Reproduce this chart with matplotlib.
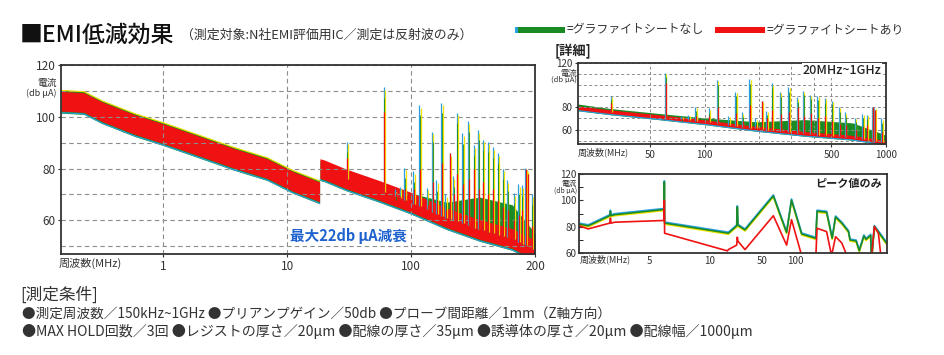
import numpy as np
import matplotlib.pyplot as plt
import matplotlib.transforms as mtrans
from matplotlib.patches import Rectangle

plt.rcParams['font.family'] = ['Noto Sans CJK JP', 'DejaVu Sans']

W, H = 945, 355

# --- farver ---
GREEN = '#1a8a22'
RED = '#f01212'
BLUE = '#2a9fe0'
YELLOW = '#f2e200'
GRID = '#8c8c8c'
TXT = '#333333'

# --- spektrum: støjbånd (MHz, dBuA) ---
low_f = [0.15, 0.23, 0.32, 0.59, 1.0, 2.0, 3.7, 6.9, 11.2, 18.3]
low_level = [106, 105.5, 102, 97, 93.5, 88.5, 84, 80, 75, 71]
high_f = [18.4, 20, 30, 56, 100, 194, 357, 655, 1000]
high_level = [80, 79.5, 76, 71.5, 67, 61, 56.5, 53, 48.5]
high_green_top = [83, 83, 79, 74.5, 70.5, 67, 69, 66, 55]

# --- spektrum: toppe ---
spike_f = [30.6, 60.8, 75, 82, 89.5, 106, 118, 136, 149, 162, 178, 192, 208,
           221, 236, 262, 291, 325, 352, 384, 421, 462, 506, 554, 600, 680,
           745, 790, 845, 870, 950]
spike_without = [90.4, 111.4, 72, 73, 80.4, 79, 104.5, 72.6, 94.2, 75.4, 105.4,
                 70, 86, 77, 101.6, 93.6, 98.3, 89, 94.9, 91.2, 90.4, 88.2, 86,
                 80, 75.4, 70.4, 74, 73.5, 80.4, 79.5, 70]
spike_with = [84, 102, 70.5, 69.5, 72, 72, 80, 66, 75, 68, 82, 64, 86, 70, 78,
              74, 76, 80, 72, 75, 70, 72, 68, 65, 64, 60, 62, 64, 80, 78, 58]

# --- kun topværdier (akse-position 0-100, dBuA) ---
pk_x_without = [0.1, 3.0, 10.0, 10.2, 10.4, 11.7, 27.6, 27.7, 27.8, 48.5, 51.2,
                51.4, 51.6, 53.9, 63.1, 67.4, 69.0, 72.3, 76.9, 77.3, 80.4, 82.2,
                83.3, 85.3, 87.5, 88.0, 90.0, 91.0, 92.5, 93.2, 94.7, 94.9, 95.1,
                95.9, 97.7, 99.9]
pk_without = [81.9, 80.6, 88.3, 91.7, 88.3, 89.1, 93, 114, 82.7, 75, 80.5, 95,
              81, 77.5, 103.3, 75.5, 100.2, 74.4, 71.1, 91.7, 90.9, 71.1, 87.3,
              82.7, 76.2, 69.8, 69.0, 61.6, 72.9, 70.3, 73.4, 58, 58, 80.1,
              74.4, 67.2]
pk_x_with = [0.1, 3.0, 10.0, 10.2, 10.4, 11.7, 27.6, 27.7, 27.8, 48.2, 48.5,
             51.2, 51.4, 51.6, 53.9, 63.1, 67.4, 69.0, 72.3, 76.9, 77.3, 80.4,
             82.0, 83.3, 85.3, 87.0, 95.0, 95.9, 97.2, 98.0]
pk_with = [80.6, 78.3, 82.7, 86.5, 82.7, 83.4, 84.7, 100, 75, 61.6, 62.6, 66,
           72, 69, 62.6, 88.3, 66, 85.3, 58, 58, 78.8, 76.2, 58, 72.4, 67.7,
           58, 58, 80.1, 75, 58]
pk_ticks = [23.0, 42.5, 59.3, 70.1]
pk_ticklabels = ['5', '10', '50', '100']


def px(x, y):
    return x / W, 1 - y / H


def ax_rect(x0, y0, x1, y1):
    return [x0 / W, 1 - y1 / H, (x1 - x0) / W, (y1 - y0) / H]


def style_axes(ax, size):
    for s in ax.spines.values():
        s.set_color('#333333')
        s.set_linewidth(1.3)
    ax.tick_params(labelsize=size, colors=TXT, length=2, pad=2)


def draw_spectrum(ax, w):
    fig = ax.figure
    left = mtrans.offset_copy(ax.transData, fig=fig, x=-0.5, y=0, units='points')
    right = mtrans.offset_copy(ax.transData, fig=fig, x=0.5, y=0, units='points')
    lo = np.array(low_level)
    hi = np.array(high_level)
    # uden grafitplade (grøn / blå / gul)
    ax.fill_between(low_f, lo - w - 0.8, lo + w + 0.6, color=GREEN, lw=0)
    ax.fill_between(high_f, hi - w - 0.8, high_green_top, color=GREEN, lw=0)
    ax.plot(low_f, lo - w - 0.6, color=BLUE, lw=0.8)
    ax.plot(high_f, hi - w - 0.6, color=BLUE, lw=0.8)
    ax.plot(low_f, lo + w + 0.4, color=YELLOW, lw=0.8)
    base = np.interp(np.log10(spike_f), np.log10(high_f), high_level)
    top = np.array(spike_without)
    ax.vlines(spike_f, base, top, colors=BLUE, lw=0.9, transform=left)
    ax.vlines(spike_f, base, top - 1, colors=YELLOW, lw=0.9, transform=right)
    ax.vlines(spike_f, base, top - 4, colors=GREEN, lw=0.6)
    # med grafitplade (rød)
    ax.fill_between(low_f, lo - w, lo + w, color=RED, lw=0)
    ax.fill_between(high_f, hi - w, hi + w, color=RED, lw=0)
    ax.vlines(spike_f, base, spike_with, colors=RED, lw=0.9)


fig = plt.figure(figsize=(W / 100, H / 100), dpi=100)

# --- hovedgraf ---
ax = fig.add_axes(ax_rect(61, 65, 535, 254))
draw_spectrum(ax, 3.8)
ax.set_xscale('log')
ax.set_xlim(0.15, 1000)
ax.set_ylim(47, 120)
ax.set_yticks([60, 80, 100, 120])
ax.set_yticks([50, 70, 90, 110], minor=True)
ax.set_xticks([1, 10, 100, 1000])
ax.set_xticklabels(['1', '10', '100', '200'])
ax.xaxis.set_minor_locator(plt.NullLocator())
style_axes(ax, 8.5)
ax.tick_params(which='minor', length=0)
ax.grid(True, which='both', color=GRID, lw=0.8, ls=(0, (4, 3)))
ax.text(0.606, 0.095, '最大22db μA減衰', transform=ax.transAxes, color='#1e62d0',
        fontsize=10.5, fontweight='bold', ha='center', va='center',
        bbox=dict(facecolor='white', edgecolor='none', pad=1))
fig.text(*px(57, 83), '電流', fontsize=7, color=TXT, ha='right', va='center')
fig.text(*px(57, 93), '(db μA)', fontsize=6.5, color=TXT, ha='right', va='center')
fig.text(*px(59, 263), '周波数(MHz)', fontsize=8, color=TXT, ha='left', va='center')

# --- detalje 20MHz-1GHz ---
ax2 = fig.add_axes(ax_rect(578, 63, 886, 144))
draw_spectrum(ax2, 1.8)
ax2.set_xscale('log')
ax2.set_xlim(20, 1000)
ax2.set_ylim(47, 120)
ax2.set_yticks([60, 80, 120])
ax2.set_yticks([50, 70, 90, 100, 110], minor=True)
ax2.set_xticks([50, 100, 500, 1000])
ax2.set_xticklabels(['50', '100', '500', '1000'])
ax2.set_xticks([200, 300, 400], minor=True)
ax2.xaxis.set_minor_formatter(plt.NullFormatter())
style_axes(ax2, 7)
ax2.tick_params(which='minor', length=0)
ax2.grid(True, which='both', color=GRID, lw=0.7, ls=(0, (3, 2.5)))
ax2.text(0.985, 0.91, '20MHz~1GHz', transform=ax2.transAxes, fontsize=9,
         fontweight='medium', color='#222222', ha='right', va='center',
         bbox=dict(facecolor='white', edgecolor='none', pad=0.5))
fig.text(*px(577, 73), '電流', fontsize=6, color=TXT, ha='right', va='center')
fig.text(*px(577, 80), '(db μA)', fontsize=5.5, color=TXT, ha='right', va='center')
fig.text(*px(578, 152), '周波数(MHz)', fontsize=6.5, color=TXT, ha='left', va='center')

# --- kun topværdier ---
ax3 = fig.add_axes(ax_rect(579, 174, 887, 253))
trans_up = mtrans.offset_copy(ax3.transData, fig=fig, x=0, y=0.7, units='points')
trans_dn = mtrans.offset_copy(ax3.transData, fig=fig, x=0, y=-0.7, units='points')
ax3.plot(pk_x_without, pk_without, color=YELLOW, lw=1.3, transform=trans_dn)
ax3.plot(pk_x_without, pk_without, color=BLUE, lw=1.3, transform=trans_up)
ax3.plot(pk_x_without, pk_without, color=GREEN, lw=1.1)
ax3.plot(pk_x_with, pk_with, color=RED, lw=1.2)
ax3.set_xlim(0, 100)
ax3.set_ylim(60, 120)
ax3.set_yticks([60, 80, 100, 120])
ax3.set_yticks([70, 90, 110], minor=True)
ax3.set_xticks(pk_ticks)
ax3.set_xticklabels(pk_ticklabels)
style_axes(ax3, 7)
ax3.tick_params(which='both', direction='in', length=3)
ax3.tick_params(axis='x', length=0)
ax3.text(0.985, 0.88, 'ピーク値のみ', transform=ax3.transAxes, fontsize=8,
         fontweight='bold', color='#222222', ha='right', va='center')
fig.text(*px(577, 184), '電流', fontsize=5.5, color=TXT, ha='right', va='center')
fig.text(*px(577, 190.5), '(db μA)', fontsize=5, color=TXT, ha='right', va='center')
fig.text(*px(580, 259), '周波数(MHz)', fontsize=6.5, color=TXT, ha='left', va='center')

# --- titel og forklaring ---
fig.text(*px(20, 35), '■EMI低減効果', fontsize=16.5, fontweight='medium',
         color='#111111', ha='left', va='center')
fig.text(*px(181, 35), '（測定対象:N社EMI評価用IC／測定は反射波のみ）',
         fontsize=9.3, color=TXT, ha='left', va='center')
fig.add_artist(Rectangle(px(515, 33), 50 / W, 6 / H, transform=fig.transFigure,
                         color=GREEN, lw=0))
fig.add_artist(Rectangle(px(515, 33), 3 / W, 6 / H, transform=fig.transFigure,
                         color=BLUE, lw=0))
fig.text(*px(567, 30), '=グラファイトシートなし', fontsize=8.6, color=TXT,
         ha='left', va='center')
fig.add_artist(Rectangle(px(715, 33), 50 / W, 6 / H, transform=fig.transFigure,
                         color=RED, lw=0))
fig.text(*px(767, 30), '=グラファイトシートあり', fontsize=8.6, color=TXT,
         ha='left', va='center')
fig.text(*px(555, 51), '[詳細]', fontsize=9.5, fontweight='bold', color='#222222',
         ha='left', va='center')

# --- måleforhold ---
fig.text(*px(20, 295), '[測定条件]', fontsize=12, color=TXT, ha='left', va='center')
fig.text(*px(22, 314), '●測定周波数／150kHz~1GHz ●プリアンプゲイン／50db '
         '●プローブ間距離／1mm（Z軸方向）', fontsize=9.8, color=TXT,
         ha='left', va='center')
fig.text(*px(22, 331), '●MAX HOLD回数／3回 ●レジストの厚さ／20μm ●配線の厚さ／35μm '
         '●誘導体の厚さ／20μm ●配線幅／1000μm', fontsize=10.1, color=TXT,
         ha='left', va='center')

fig.savefig('out.png', dpi=100, facecolor='white')
